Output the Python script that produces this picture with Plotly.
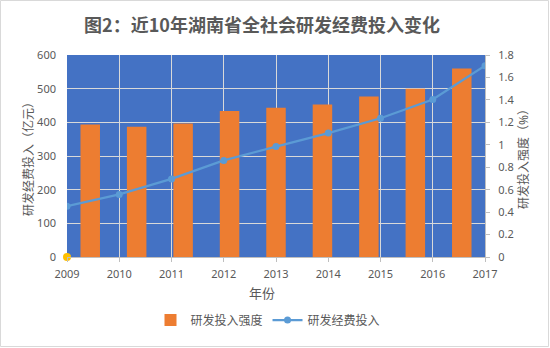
import plotly.graph_objects as go

years = [2009, 2010, 2011, 2012, 2013, 2014, 2015, 2016, 2017]
year_labels = [str(y) for y in years]
rd_spending = [151, 186, 232, 287, 328, 368, 412, 468, 568]        # 亿元 (left axis, line)
rd_intensity = [1.18, 1.16, 1.19, 1.30, 1.33, 1.36, 1.43, 1.50, 1.68]  # % (right axis, bars)
left_ticks = [0, 100, 200, 300, 400, 500, 600]
right_ticks = [0, 0.2, 0.4, 0.6, 0.8, 1.0, 1.2, 1.4, 1.6, 1.8]
right_labels = ["0", "0.2", "0.4", "0.6", "0.8", "1", "1.2", "1.4", "1.6", "1.8"]

W, H = 550, 348
ML, MR, MT, MB = 67, 65, 55, 91
PW, PH = W - ML - MR, H - MT - MB

GRAY = "#595959"
FONT = "Noto Sans, Noto Sans CJK SC, sans-serif"

fig = go.Figure()

fig.add_trace(go.Bar(
    x=list(range(len(years))), y=rd_intensity, name="研发投入强度",
    marker=dict(color="#ED7D31", line=dict(width=0)),
    width=0.42, xaxis="x", yaxis="y",
))

fig.add_trace(go.Scatter(
    x=years, y=rd_spending, name="研发经费投入", mode="lines+markers",
    line=dict(color="#5B9BD5", width=2.25),
    marker=dict(color="#5B9BD5", size=7),
    xaxis="x2", yaxis="y2",
))

fig.add_trace(go.Scatter(
    x=[years[0]], y=[0], mode="markers", showlegend=False,
    marker=dict(color="#FFC000", size=8), cliponaxis=False,
    xaxis="x2", yaxis="y2", hoverinfo="skip",
))

fig.update_layout(
    width=W, height=H,
    margin=dict(l=ML, r=MR, t=MT, b=MB),
    paper_bgcolor="white",
    plot_bgcolor="#4472C4",
    font=dict(family=FONT, color=GRAY, size=11),
    title=dict(
        text="<b>图2：近10年湖南省全社会研发经费投入变化</b>",
        x=262 / W, xref="container", xanchor="center",
        y=1 - 26 / H, yref="container", yanchor="middle",
        font=dict(size=18, color=GRAY, family="Noto Sans CJK SC, serif"),
    ),
    xaxis=dict(
        range=[-0.5, len(years) - 0.5], visible=False, showgrid=False,
        fixedrange=True,
    ),
    xaxis2=dict(
        overlaying="x", range=[years[0], years[-1]],
        tickvals=years, ticktext=year_labels,
        showgrid=True, gridcolor="#D9D9D9", gridwidth=1,
        showline=True, linecolor="#BFBFBF", linewidth=1,
        ticks="outside", ticklen=4, tickcolor="#BFBFBF",
        zeroline=False, side="bottom",
        tickfont=dict(size=11, color=GRAY),
        ticklabelstandoff=3,
    ),
    yaxis=dict(
        side="right", range=[0, 1.8], tickvals=right_ticks, ticktext=right_labels,
        showgrid=False, zeroline=False,
        ticks="outside", ticklen=4, tickcolor="#BFBFBF",
        showline=True, linecolor="#BFBFBF",
        tickfont=dict(size=11, color=GRAY),
        title=dict(text="研发投入强度（%）", font=dict(size=12, color=GRAY), standoff=6),
        ticklabelstandoff=6,
    ),
    yaxis2=dict(
        overlaying="y", side="left", range=[0, 600], tickvals=left_ticks,
        showgrid=True, gridcolor="#D9D9D9", gridwidth=1, zeroline=False,
        tickfont=dict(size=11, color=GRAY),
        title=dict(text="研发经费投入（亿元）", font=dict(size=12, color=GRAY), standoff=0),
        ticklabelstandoff=10,
    ),
    legend=dict(
        orientation="h", x=(268 - ML) / PW, xanchor="center",
        y=-(320 - (MT + PH)) / PH,
        yanchor="middle", font=dict(size=12, color=GRAY),
        bgcolor="rgba(0,0,0,0)", itemwidth=30, traceorder="normal",
    ),
    annotations=[dict(
        text="年份", xref="paper", yref="paper",
        x=(262 - ML) / PW, y=-(293 - (MT + PH)) / PH,
        xanchor="center", yanchor="middle", showarrow=False,
        font=dict(size=13, color=GRAY),
    )],
    shapes=[dict(
        type="rect", xref="paper", yref="paper", layer="below",
        x0=-(ML - 0.5) / PW, x1=1 + (MR - 1.5) / PW,
        y0=-(MB - 1.5) / PH, y1=1 + (MT - 0.5) / PH,
        line=dict(color="#D9D9D9", width=1),
    )],
    bargap=0.58,
    showlegend=True,
)

fig.write_html("out.html")
